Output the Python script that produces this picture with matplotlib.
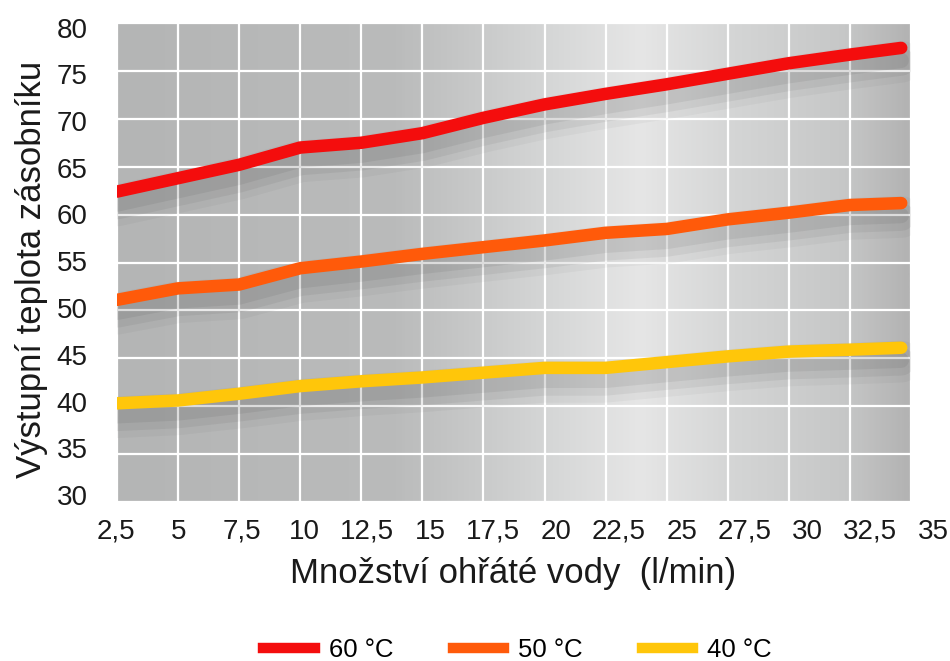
import numpy as np
import matplotlib
matplotlib.use("Agg")
import matplotlib.pyplot as plt
import matplotlib.patheffects as pe
from matplotlib.colors import LinearSegmentedColormap

plt.rcParams['font.family'] = ['Liberation Sans', 'DejaVu Sans']

# ---------------------- DADOS -------------------------
prutok = [2.5, 5, 7.5, 10, 12.5, 15, 17.5, 20, 22.5, 25, 27.5, 30, 32.5, 34.6]
t60 = [62.4, 63.8, 65.2, 67.0, 67.5, 68.5, 70.1, 71.5, 72.6, 73.6, 74.7, 75.8, 76.7, 77.4]
t50 = [51.1, 52.3, 52.7, 54.4, 55.1, 55.9, 56.6, 57.3, 58.1, 58.5, 59.5, 60.2, 61.0, 61.2]
t40 = [40.3, 40.6, 41.3, 42.1, 42.6, 43.0, 43.5, 44.0, 44.0, 44.6, 45.2, 45.7, 45.9, 46.1]

serie_nomes = ["60 °C", "50 °C", "40 °C"]
serie_cores = ["#f40d0d", "#ff5a0a", "#ffc60a"]

x_ticks = [2.5, 5, 7.5, 10, 12.5, 15, 17.5, 20, 22.5, 25, 27.5, 30, 32.5, 35]
x_labels = ["2,5", "5", "7,5", "10", "12,5", "15", "17,5", "20", "22,5", "25", "27,5", "30", "32,5", "35"]
y_ticks = [30, 35, 40, 45, 50, 55, 60, 65, 70, 75, 80]

W, H = 950, 661

# ---------------------- FIGURA -------------------------
fig = plt.figure(figsize=(9.5, 6.61), dpi=100)
ax = fig.add_axes([117 / W, 1 - 502 / H, (911 - 117) / W, (502 - 23) / H])

# fundo em degradê cinza
cmap = LinearSegmentedColormap.from_list("fundo", [
    (0.0, "#b4b5b5"), (0.35, "#babbbb"), (0.55, "#d6d7d7"),
    (0.66, "#e6e6e6"), (0.78, "#d4d5d5"), (0.92, "#c6c7c7"), (1.0, "#b3b3b3")])
grad = np.linspace(0, 1, 400).reshape(1, -1)
ax.imshow(grad, cmap=cmap, aspect="auto", extent=[2.5, 35, 30, 80], zorder=0)

ax.set_xlim(2.5, 35)
ax.set_ylim(30, 80)
ax.set_xticks(x_ticks)
ax.set_yticks(y_ticks)
ax.grid(True, color="white", linewidth=1.6, zorder=1)
ax.set_axisbelow(False)
for s in ax.spines.values():
    s.set_visible(False)
ax.tick_params(length=0, labelbottom=False, labelleft=False)

sombra = [pe.SimpleLineShadow(offset=(0, -10), shadow_color="black", alpha=0.03, linewidth=30),
          pe.SimpleLineShadow(offset=(0, -10), shadow_color="black", alpha=0.05, linewidth=20),
          pe.SimpleLineShadow(offset=(0, -9), shadow_color="black", alpha=0.06, linewidth=11),
          pe.Normal()]

for serie, nome, cor in zip([t60, t50, t40], serie_nomes, serie_cores):
    ax.plot(prutok, serie, color=cor, linewidth=9, solid_capstyle="round",
            solid_joinstyle="round", label=nome, zorder=3, path_effects=sombra)

# rótulos dos eixos (escala dos rótulos um pouco mais larga que a grade, como no original)
ax_x = fig.add_axes([116 / W, 1 - 502 / H, (933 - 116) / W, 0.001])
ax_x.set_xlim(2.5, 35)
ax_x.set_xticks(x_ticks)
ax_x.set_xticklabels(x_labels)
ax_x.set_yticks([])
ax_x.patch.set_visible(False)
for s in ax_x.spines.values():
    s.set_visible(False)
ax_x.tick_params(length=0, labelsize=20, pad=12, colors="#1a1a1a")

ax_y = fig.add_axes([117 / W, 1 - 495 / H, 0.001, (495 - 27.5) / H])
ax_y.set_ylim(30, 80)
ax_y.set_yticks(y_ticks)
ax_y.set_xticks([])
ax_y.patch.set_visible(False)
for s in ax_y.spines.values():
    s.set_visible(False)
ax_y.tick_params(length=0, labelsize=20, pad=21, colors="#1a1a1a")

fig.text(513 / W, 1 - 574 / H, "Množství ohřáté vody  (l/min)", fontsize=25,
         ha="center", va="center", color="#1a1a1a")
fig.text(32 / W, 1 - 269 / H, "Výstupní teplota zásobníku", fontsize=25, rotation=90,
         ha="center", va="center", color="#1a1a1a")

handles = [plt.Line2D([], [], color=c, linewidth=7.5) for c in serie_cores]
fig.legend(handles, serie_nomes, loc="center", bbox_to_anchor=(0.545, 0.016), ncol=3,
           frameon=False, fontsize=18.5, handlelength=2.0, handletextpad=0.55,
           columnspacing=2.3, borderpad=0)

fig.savefig("out.png", dpi=100)
